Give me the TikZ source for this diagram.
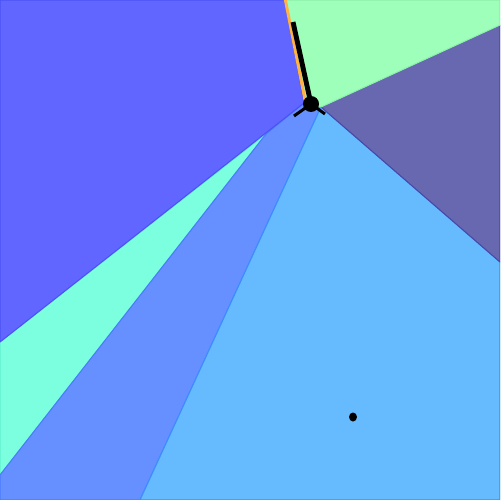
\documentclass[tikz,border=0pt]{standalone}
\begin{document}
\begin{tikzpicture}[x=0.02cm,y=-0.02cm,
  region/.style={line width=0.6pt, line join=round},
  robot/.style={fill=black, draw=black}]
\definecolor{cpurple}{HTML}{6066FF}
\definecolor{cpurpleE}{HTML}{4A52F5}
\definecolor{cgreen}{HTML}{9EFFBA}
\definecolor{cgreenE}{HTML}{8CEFAA}
\definecolor{cslate}{HTML}{6868B0}
\definecolor{cslateE}{HTML}{4848A8}
\definecolor{clight}{HTML}{66BBFF}
\definecolor{clightE}{HTML}{3A8EFF}
\definecolor{cmid}{HTML}{6690FF}
\definecolor{cmidE}{HTML}{4A7BFF}
\definecolor{caqua}{HTML}{7CFFDE}
\definecolor{caquaE}{HTML}{60F0D0}
\definecolor{corange}{HTML}{FFB347}
\useasboundingbox (0,0) rectangle (500,500);
\clip (0,0) rectangle (500,500);
\coordinate (C) at (321,107);
\coordinate (P) at (304,103);
\coordinate (T) at (266,134);
% regions
\filldraw[region, fill=caqua, draw=caquaE] (0,342) -- (T) -- (0,475) -- cycle;
\filldraw[region, fill=cmid, draw=cmidE] (P) -- (C) -- (140,500) -- (0,500) -- (0,475) -- (T) -- cycle;
\filldraw[region, fill=clight, draw=clightE] (C) -- (500,262) -- (500,500) -- (140,500) -- cycle;
\filldraw[region, fill=cslate, draw=cslateE] (C) -- (500,25) -- (500,262) -- cycle;
\filldraw[region, fill=cgreen, draw=cgreenE] (285,0) -- (500,0) -- (500,25) -- (C) -- (P) -- cycle;
\filldraw[region, fill=cpurple, draw=cpurpleE] (0,0) -- (285,0) -- (P) -- (0,342) -- cycle;
% orange trail
\coordinate (O1) at (285,-2);
\coordinate (O2) at (305,100);
\draw[corange, line width=1.7pt] (O1) -- (O2);
% robot
\coordinate (R) at (311,104);
\coordinate (H) at (293,22);
\coordinate (L1) at (294,116);
\coordinate (L2) at (325,114);
\draw[black, line width=2.8pt] (H) -- (R);
\draw[black, line width=1.7pt] (R) -- (L1);
\draw[black, line width=1.7pt] (R) -- (L2);
\fill[black] (R) circle (8);
% dot
\coordinate (D) at (353,417);
\fill[black] (D) ellipse (4 and 4.5);
\end{tikzpicture}
\end{document}
